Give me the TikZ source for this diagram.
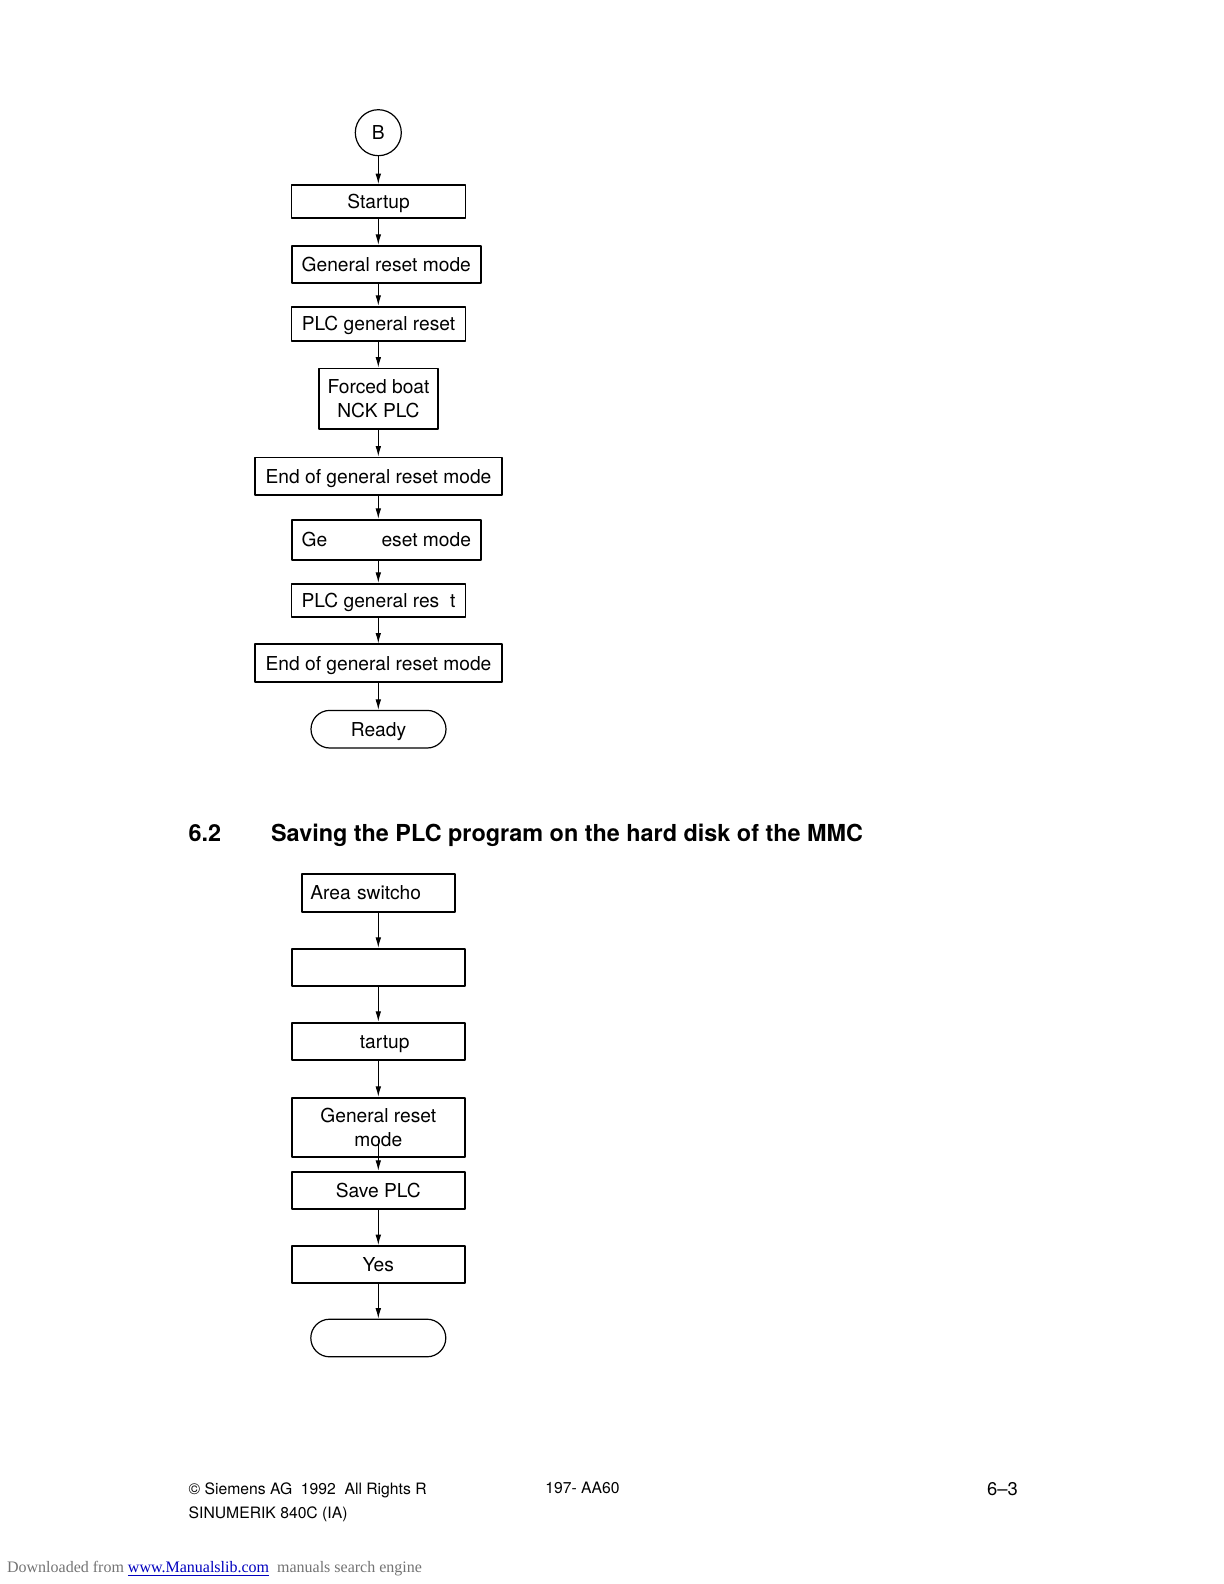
\documentclass[tikz,border=0pt]{standalone}
\usepackage{fontspec}
\setmainfont{TeX Gyre Heros}
\newfontfamily\timesfont{Liberation Serif}
\usetikzlibrary{arrows.meta,shapes.misc}
\definecolor{dlgray}{gray}{0.45}
\definecolor{linkblue}{RGB}{0,0,190}

\begin{document}
\begin{tikzpicture}[x=0.5pt, y=-0.5pt, >={Latex[length=5.2pt,width=2.8pt]}, line cap=round, line join=round]
	\tikzset{
		box_base/.style={rectangle, draw, line width=0.9pt, inner sep=0pt, align=center, font=\fontsize{9.6}{11.7}\selectfont},
		one_line/.style={text height=6.9pt, text depth=0pt}, % keeps descenders from lifting the text
		step_box/.style={box_base, one_line, minimum width=87pt, minimum height=18.5pt},
		wide_box/.style={box_base, one_line, minimum width=94.7pt, minimum height=18.5pt},
		end_box/.style={box_base, one_line, minimum width=123.7pt, minimum height=18.8pt},
		terminal/.style={rounded rectangle, draw, line width=0.6pt, one_line, minimum width=67.5pt, minimum height=18.8pt, inner sep=0pt, font=\fontsize{9.6}{11.7}\selectfont},
		connector/.style={circle, draw, line width=0.6pt, minimum size=23pt, inner sep=0pt, font=\fontsize{9.6}{11.7}\selectfont},
		flow/.style={->, line width=0.5pt},
		page_text/.style={anchor=base west, inner sep=0pt, font=\fontsize{7.85}{9.4}\selectfont}
	}
	\useasboundingbox (0,0) rectangle (1224,1584);
	\coordinate (col) at (378.3,0);

	% first chart
	\node[connector] (b) at (378.3,132.7) {B};
	\node[step_box, minimum height=16.5pt] (startup) at (378.5,201.5) {Startup};
	\node[wide_box] (resetmode) at (386.3,264.2) {General reset mode};
	\node[step_box, minimum height=17.2pt] (plcreset) at (378.5,323.8) {PLC general reset};
	\node[box_base, minimum width=59.7pt, minimum height=30.3pt] (forcedboot) at (378.5,398.7) {Forced boat\\NCK PLC};
	\node[end_box] (endreset) at (378.5,476.2) {End of general reset mode};
	\node[wide_box, minimum height=20pt] (resetmodeb) at (386.3,539.7) {Ge\phantom{neral r}eset mode};
	\node[step_box, minimum height=16.5pt] (plcresetb) at (378.5,600.2) {PLC general res\phantom{e}t};
	\node[end_box, minimum height=19pt] (endresetb) at (378.5,663.3) {End of general reset mode};
	\node[terminal] (ready) at (378.5,729.2) {Ready};

	% heading
	\node[anchor=base west, inner sep=0pt, font=\bfseries\fontsize{11.7}{14}\selectfont] (secnum) at (188.3,841.7) {6.2};
	\node[anchor=base west, inner sep=0pt, font=\bfseries\fontsize{11.7}{14}\selectfont] (sectitle) at (270.7,841.7) {Saving the PLC program on the hard disk of the MMC};

	% second chart
	\node[box_base, one_line, text width=68pt, inner xsep=4.3pt, align=left, minimum height=18.7pt] (areaswitch) at (378.3,893) {Area switcho};
	\node[step_box, minimum width=86.7pt] (blank) at (378.3,967.2) {};
	\node[step_box, minimum width=86.7pt, minimum height=18.7pt] (startupb) at (378.3,1041.3) {\phantom{S}tartup};
	\node[box_base, minimum width=86.7pt, minimum height=29.8pt] (resetmodec) at (378.3,1127.5) {General reset\\mode};
	\node[step_box, minimum width=86.7pt, minimum height=18.7pt] (saveplc) at (378.3,1190.3) {Save PLC};
	\node[step_box, minimum width=86.7pt] (yes) at (378.3,1264.5) {Yes};
	\node[terminal] (finish) at (378.3,1338) {};

	\foreach \from/\to in {b/startup, startup/resetmode, resetmode/plcreset, plcreset/forcedboot,
		forcedboot/endreset, endreset/resetmodeb, resetmodeb/plcresetb, plcresetb/endresetb, endresetb/ready,
		areaswitch/blank, blank/startupb, startupb/resetmodec, saveplc/yes, yes/finish}
		\draw[flow] (\from.south -| col) -- (\to.north -| col);
	\draw[flow] ([yshift=9pt]resetmodec.south) -- (saveplc.north);

	% footer
	\node[page_text] (copyright) at (188.3,1494) {© Siemens AG\ \ 1992\ \ All Rights R};
	\node[page_text] (product) at (188.3,1518.5) {SINUMERIK 840C (IA)};
	\node[page_text] (orderno) at (545,1493.5) {197- AA60};
	\node[page_text, font=\fontsize{9.2}{11}\selectfont] (pageno) at (986.7,1495) {6–3};
	\node[anchor=base west, inner sep=0pt, font=\timesfont\fontsize{8}{9.6}\selectfont, text=dlgray] (download) at (6.7,1572.5)
		{Downloaded from \textcolor{linkblue}{\underline{www.Manualslib.com}}\ \ manuals search engine};
\end{tikzpicture}
\end{document}
